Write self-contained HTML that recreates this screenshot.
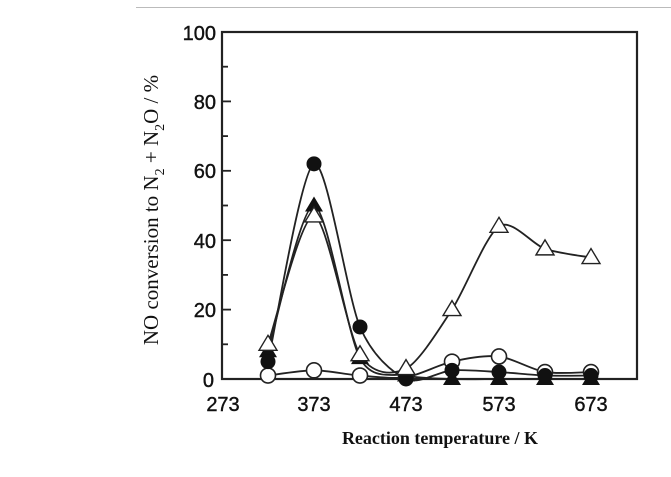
<!DOCTYPE html>
<html><head><style>
body{margin:0;background:#fff;width:671px;height:472px;overflow:hidden}
svg text{font-family:"Liberation Sans",Arial,sans-serif;fill:#111}
</style></head><body>
<svg id="s" width="671" height="472" xmlns="http://www.w3.org/2000/svg">
<line x1="136" y1="7.5" x2="671" y2="7.5" stroke="#bbb" stroke-width="1"/>
<rect x="222" y="32" width="415" height="347" fill="none" stroke="#222" stroke-width="2.2"/>
<g stroke="#222" stroke-width="1.8">
<line x1="222" y1="32" x2="231" y2="32"/><line x1="222" y1="66.7" x2="228" y2="66.7"/>
<line x1="222" y1="101.4" x2="231" y2="101.4"/><line x1="222" y1="136.1" x2="228" y2="136.1"/>
<line x1="222" y1="170.8" x2="231" y2="170.8"/><line x1="222" y1="205.5" x2="228" y2="205.5"/>
<line x1="222" y1="240.2" x2="231" y2="240.2"/><line x1="222" y1="274.9" x2="228" y2="274.9"/>
<line x1="222" y1="309.6" x2="231" y2="309.6"/><line x1="222" y1="344.3" x2="228" y2="344.3"/>
</g>
<g font-size="20" text-anchor="end" stroke="#111" stroke-width="0.4">
<text x="216" y="40">100</text><text x="216" y="109">80</text><text x="216" y="178">60</text>
<text x="216" y="248">40</text><text x="216" y="317">20</text><text x="214" y="387">0</text>
</g>
<g font-size="20" text-anchor="middle" stroke="#111" stroke-width="0.4">
<text x="223" y="411">273</text><text x="314" y="411">373</text><text x="406" y="411">473</text>
<text x="499" y="411">573</text><text x="591" y="411">673</text>
</g>
<text x="440" y="444" text-anchor="middle" font-size="18" style="font-family:'Liberation Serif',serif;font-weight:bold">Reaction temperature / K</text>
<text transform="translate(158,210) rotate(-90)" text-anchor="middle" font-size="21" style="font-family:'Liberation Serif',serif">NO conversion to N<tspan font-size="14" dy="6">2</tspan><tspan dy="-6"> + N</tspan><tspan font-size="14" dy="6">2</tspan><tspan dy="-6">O  / %</tspan></text>
<g id="g"></g>
</svg>
<script>
var X=[268,314,360,406,452,499,545,591];
function Y(v){return 379-v*3.47}
var series=[
 {d:[8,50,6,1,0,0,0,0],m:'ft'},
 {d:[1,2.5,1,0.5,5,6.5,2,2],m:'oc'},
 {d:[5,62,15,0,2.5,2,1,1],m:'fc'},
 {d:[10,47,7,3,20,44,37.5,35],m:'ot'}];
var g=document.getElementById('g'),h='';
series.forEach(function(s){
 var p=s.d.map(function(v,i){return [X[i],Y(v)]});
 var d='M'+p[0][0]+','+p[0][1];
 for(var i=0;i<p.length-1;i++){
  var p0=p[i-1]||p[i],p1=p[i],p2=p[i+1],p3=p[i+2]||p2,t=0.25;
  var c1=[p1[0]+(p2[0]-p0[0])*t/1.8,p1[1]+(p2[1]-p0[1])*t/1.8];
  var c2=[p2[0]-(p3[0]-p1[0])*t/1.8,p2[1]-(p3[1]-p1[1])*t/1.8];
  d+=' C'+c1+' '+c2+' '+p2;
 }
 h+='<path d="'+d+'" fill="none" stroke="#222" stroke-width="1.8"/>';
});
series.forEach(function(s){
 s.d.forEach(function(v,i){
  var x=X[i],y=Y(v);
  if(s.m=='fc')h+='<circle cx="'+x+'" cy="'+y+'" r="7.5" fill="#111"/>';
  if(s.m=='oc')h+='<circle cx="'+x+'" cy="'+y+'" r="7.5" fill="#fff" stroke="#222" stroke-width="1.6"/>';
  var tri='M'+(x-9)+','+(y+6)+' L'+x+','+(y-9)+' L'+(x+9)+','+(y+6)+'Z';
  if(s.m=='ft')h+='<path d="'+tri+'" fill="#111"/>';
  if(s.m=='ot')h+='<path d="'+tri+'" fill="#fff" stroke="#222" stroke-width="1.4"/>';
 });
});
g.innerHTML=h;
</script>
</body></html>
